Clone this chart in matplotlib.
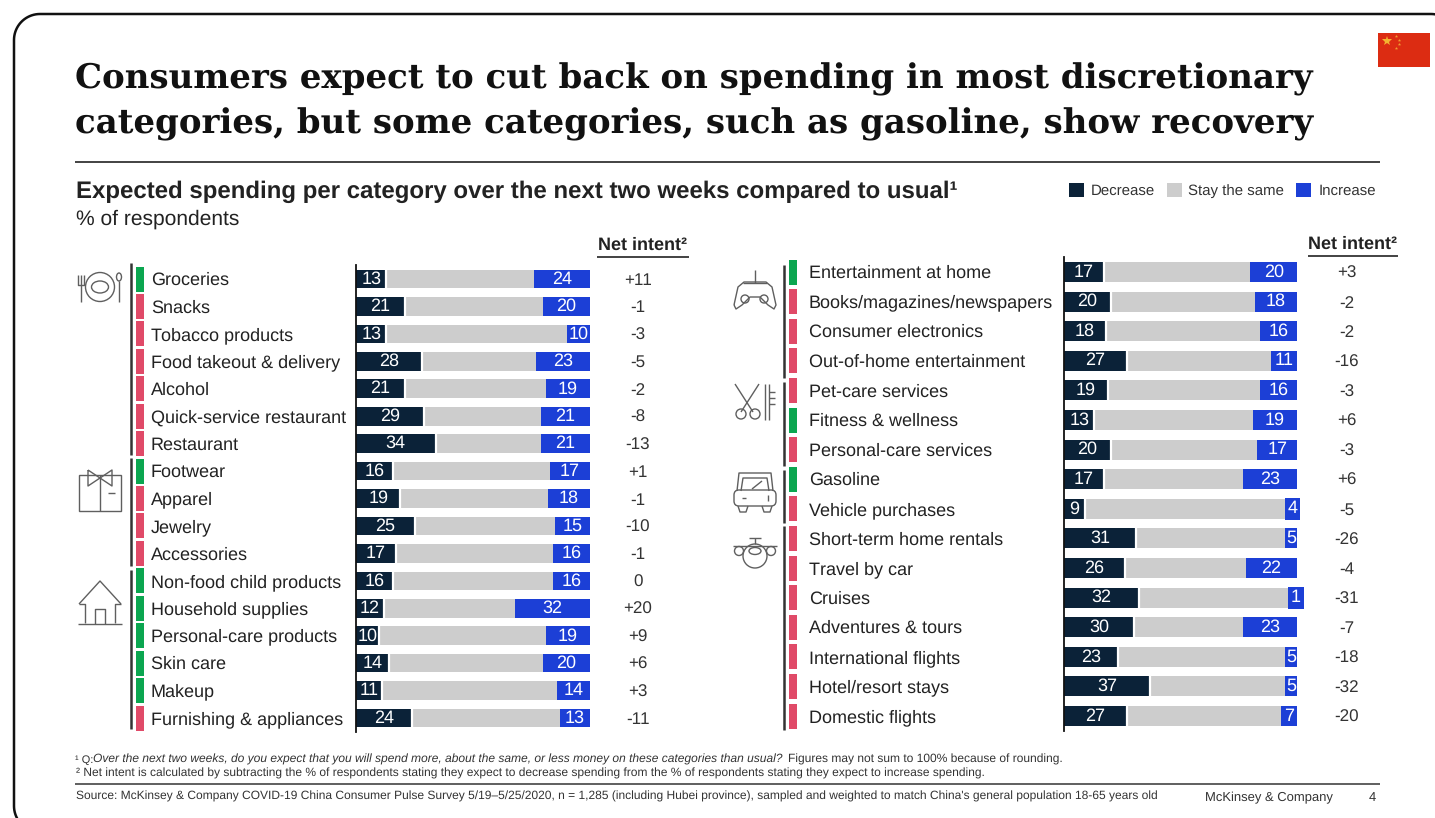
import numpy as np
import matplotlib
matplotlib.use("Agg")
from matplotlib import pyplot as plt
from matplotlib.patches import Rectangle, Circle, Ellipse, FancyBboxPatch

W, H = 1435, 818

DARK = "#0b2238"
GRAY = "#cdcdcd"
BLUE = "#1c3fd6"
GREEN = "#0ba650"
RED = "#e04a68"
TEXT = "#222222"
ICON = "#5f5f5f"

# left panel
left_names = ["Groceries", "Snacks", "Tobacco products", "Food takeout & delivery", "Alcohol",
              "Quick-service restaurant", "Restaurant", "Footwear", "Apparel", "Jewelry",
              "Accessories", "Non-food child products", "Household supplies",
              "Personal-care products", "Skin care", "Makeup", "Furnishing & appliances"]
left_dec = [13, 21, 13, 28, 21, 29, 34, 16, 19, 25, 17, 16, 12, 10, 14, 11, 24]
left_inc = [24, 20, 10, 23, 19, 21, 21, 17, 18, 15, 16, 16, 32, 19, 20, 14, 13]
left_net = [11, -1, -3, -5, -2, -8, -13, 1, -1, -10, -1, 0, 20, 9, 6, 3, -11]

# right panel
right_names = ["Entertainment at home", "Books/magazines/newspapers", "Consumer electronics",
               "Out-of-home entertainment", "Pet-care services", "Fitness & wellness",
               "Personal-care services", "Gasoline", "Vehicle purchases",
               "Short-term home rentals", "Travel by car", "Cruises", "Adventures & tours",
               "International flights", "Hotel/resort stays", "Domestic flights"]
right_dec = [17, 20, 18, 27, 19, 13, 20, 17, 9, 31, 26, 32, 30, 23, 37, 27]
right_inc = [20, 18, 16, 11, 16, 19, 17, 23, 4, 5, 22, 1, 23, 5, 5, 7]
right_net = [3, -2, -2, -16, -3, 6, -3, 6, -5, -26, -4, -31, -7, -18, -32, -20]

plt.rcParams["font.family"] = ["Liberation Sans", "DejaVu Sans"]
plt.rcParams["text.hinting"] = "no_hinting"
plt.rcParams["text.hinting_factor"] = 1

fig = plt.figure(figsize=(W / 100, H / 100), dpi=100, facecolor="white")

# full-figure layer in pixel units for text, rules and icons
bg = fig.add_axes([0, 0, 1, 1])
bg.set_xlim(0, W)
bg.set_ylim(H, 0)
bg.axis("off")


def line(xs, ys, color=ICON, lw=1.0):
    bg.plot(xs, ys, color=color, lw=lw, solid_capstyle="butt")


def txt(x, y, s, size, **kw):
    kw.setdefault("color", TEXT)
    kw.setdefault("va", "baseline")
    return bg.text(x, y, s, fontsize=size, **kw)


def corner(cx, cy, a0, a1):
    a = np.radians(np.linspace(a0, a1, 20))
    return list(cx + 26 * np.cos(a)), list(cy + 26 * np.sin(a))


# slide frame, runs off the right and bottom edges
frame_x, frame_y = [], []
for cx, cy, a0, a1 in [(40, 806, 90, 180), (40, 40, 180, 270), (1431, 40, 270, 360)]:
    cxs, cys = corner(cx, cy, a0, a1)
    frame_x += cxs
    frame_y += cys
bg.plot(frame_x, frame_y, color="#111111", lw=1.8)

# flag
bg.add_patch(Rectangle((1378, 33), 52, 34, fc="#dc2c12", ec="none"))
bg.plot([1387], [41], marker="*", ms=7, color="#f4b430", mew=0)
bg.plot([1396, 1399, 1399, 1396], [36, 40, 44, 48], ls="none", marker="*", ms=2.5, color="#f0a030", mew=0)

# heading
txt(75, 88, "Consumers expect to cut back on spending in most discretionary", 24.45,
    family="DejaVu Serif", weight="bold", color="#111111")
txt(75, 133, "categories, but some categories, such as gasoline, show recovery", 24.45,
    family="DejaVu Serif", weight="bold", color="#111111")
line([75, 1380], [162, 162], color="#222222", lw=1.2)

txt(76, 198, "Expected spending per category over the next two weeks compared to usual¹", 17.1,
    weight="bold")
txt(76, 225, "% of respondents", 15)

# legend
for x, c, label, tx in [(1069, DARK, "Decrease", 1091), (1167, GRAY, "Stay the same", 1188),
                        (1296, BLUE, "Increase", 1319)]:
    bg.add_patch(Rectangle((x, 183), 15, 14, fc=c, ec="none"))
    txt(tx, 195, label, 10.5, color="#333333")


def panel(names, dec, inc, net, box, row0, step, label_x, net_x, ind_x, head_x, head_y, groups):
    n = len(names)
    x0, x1 = box
    top = row0 - step / 2
    bottom = top + step * n
    ax = fig.add_axes([x0 / W, 1 - bottom / H, (x1 - x0) / W, (bottom - top) / H])
    ax.patch.set_alpha(0)
    ys = list(range(n))
    stay = [100 - d - i for d, i in zip(dec, inc)]
    ax.barh(ys, dec, height=0.68, color=DARK)
    ax.barh(ys, stay, left=dec, height=0.68, color=GRAY)
    ax.barh(ys, inc, left=[d + s for d, s in zip(dec, stay)], height=0.68, color=BLUE)
    # thin white gap after the dark segment
    ax.vlines(dec, [y - 0.34 for y in ys], [y + 0.34 for y in ys], color="white", lw=1.6)
    for i in ys:
        ax.text(dec[i] / 2, i, str(dec[i]), color="white", fontsize=13, ha="center", va="center")
        if inc[i] < 5:
            # label too wide for its segment gets its own blue box
            ax.text(100 - inc[i] / 2, i, str(inc[i]), color="white", fontsize=13, ha="center", va="center",
                    bbox=dict(fc=BLUE, ec="none", pad=2.0), clip_on=False)
        else:
            ax.text(100 - inc[i] / 2, i, str(inc[i]), color="white", fontsize=13, ha="center", va="center")
    ax.set_xlim(0, 100)
    ax.set_ylim(n - 0.5, -0.5)
    ax.set_xticks([])
    ax.set_yticks([])
    for side in ["top", "right", "bottom"]:
        ax.spines[side].set_visible(False)
    ax.spines["left"].set_linewidth(1.3)
    ax.spines["left"].set_color("#111111")

    for i, name in enumerate(names):
        y = row0 + i * step
        txt(label_x, y + 6, name, 12.9)
        value = f"+{net[i]}" if net[i] > 0 else str(net[i])
        txt(net_x, y + 6, value, 12.5, ha="center", color="#333333")
        bg.add_patch(Rectangle((ind_x, y - 12.5), 8, 25, ec="none",
                               fc=GREEN if net[i] >= 0 else RED))

    # category brackets
    for y0, y1 in groups:
        line([ind_x - 5.5, ind_x - 5.5], [y0, y1], color="#333333", lw=1.8)

    txt((head_x[0] + head_x[1]) / 2, head_y, "Net intent²", 13, weight="bold", ha="center")
    line(head_x, [head_y + 7, head_y + 7], color="#222222", lw=1.2)


panel(left_names, left_dec, left_inc, left_net, (356, 590), 279, 27.44, 151, 638, 136, (597, 689), 250,
      [(263, 455), (458, 566), (570, 729)])
panel(right_names, right_dec, right_inc, right_net, (1064, 1297), 272, 29.6, 809, 1347, 789, (1308, 1398), 249,
      [(265, 378), (382, 466), (470, 523), (526, 730)])

# plate and cutlery
bg.add_patch(Circle((100, 287), 14.5, fc="none", ec=ICON, lw=1))
bg.add_patch(Ellipse((100, 287), 17, 12, fc="none", ec=ICON, lw=1))
line([81, 81], [275, 302])
line([78, 78, 84, 84], [275, 285, 285, 275])
bg.add_patch(Ellipse((119, 277), 5, 8, fc="none", ec=ICON, lw=1))
line([119, 119], [281, 302])

# shirt box
bg.add_patch(Rectangle((79, 475), 42, 36, fc="none", ec=ICON, lw=1))
line([100, 100], [475, 511])
line([88, 112, 112, 88, 88], [470, 486, 470, 486, 470])
line([108, 115], [493, 493])

# house
line([79, 100, 121], [604, 581, 604])
line([79, 85, 85], [604, 604, 623])
line([121, 115, 115], [604, 604, 623])
line([78, 122], [624, 624])
line([95, 95, 105, 105], [624, 609, 609, 624])

# controller
line([755, 755], [270, 283])
line([743, 767], [283, 283])
xs = [734, 738, 744, 766, 772, 776, 774, 768, 760, 750, 742, 736, 734]
ys = [305, 287, 282, 282, 287, 305, 309, 305, 297, 297, 305, 309, 305]
line(xs, ys)
bg.add_patch(Circle((745, 299), 4, fc="none", ec=ICON, lw=1))
bg.add_patch(Circle((764, 299), 4, fc="none", ec=ICON, lw=1))

# scissors and comb
line([735, 753], [384, 412])
line([759, 741], [384, 412])
bg.add_patch(Circle((741, 414), 5, fc="none", ec=ICON, lw=1))
bg.add_patch(Circle((755, 414), 5, fc="none", ec=ICON, lw=1))
line([765, 765], [384, 420])
line([769, 769], [384, 420])
for y in [392, 398, 404]:
    line([769, 775], [y, y])

# car
line([737, 739, 771, 773], [491, 473, 473, 491])
line([741, 743, 767, 769], [491, 478, 478, 491])
bg.add_patch(FancyBboxPatch((736, 492), 38, 12, boxstyle="round,pad=2,rounding_size=5", fc="none", ec=ICON, lw=1))
line([738, 740, 746, 748], [506, 512, 512, 506])
line([762, 764, 770, 772], [506, 512, 512, 506])
line([752, 762], [489, 481])
line([742, 746], [498, 498])
line([768, 768], [495, 501])

# plane from the front
bg.add_patch(Circle((755, 556), 12, fc="none", ec=ICON, lw=1))
bg.add_patch(Ellipse((755, 551), 12, 7, fc="none", ec=ICON, lw=1))
line([733, 777], [546, 546])
line([749, 761], [538, 538])
line([755, 755], [538, 544])
bg.add_patch(Circle((739, 551), 4.5, fc="none", ec=ICON, lw=1))
bg.add_patch(Circle((771, 551), 4.5, fc="none", ec=ICON, lw=1))

# footnotes
txt(75, 763, "¹ Q:", 7.8, color="#333333")
txt(93, 763, "Over the next two weeks, do you expect that you will spend more, about the same, or less money on these categories than usual?",
    8.55, style="italic", color="#333333")
txt(788, 763, "Figures may not sum to 100% because of rounding.", 8.55, color="#333333")
txt(76, 777, "² Net intent is calculated by subtracting the % of respondents stating they expect to decrease spending from the % of respondents stating they expect to increase spending.",
    8.55, color="#333333")
line([75, 1380], [784, 784], color="#444444", lw=1.2)
txt(76, 800, "Source: McKinsey & Company COVID-19 China Consumer Pulse Survey 5/19–5/25/2020, n = 1,285 (including Hubei province), sampled and weighted to match China's general population 18-65 years old",
    8.6, color="#333333")
txt(1205, 801, "McKinsey & Company", 9.7, color="#333333")
txt(1376, 801, "4", 9.7, color="#333333", ha="right")

fig.savefig("out.png", dpi=100, facecolor="white")
